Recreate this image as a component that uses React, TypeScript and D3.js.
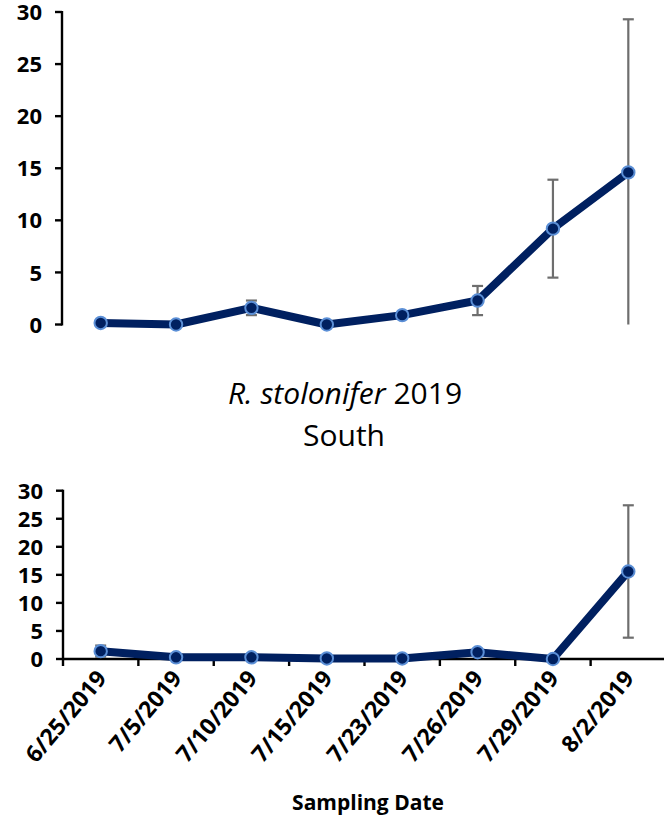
import React from "react";
import * as d3 from "d3";

const dates = ["6/25/2019", "7/5/2019", "7/10/2019", "7/15/2019", "7/23/2019", "7/26/2019", "7/29/2019", "8/2/2019"];
const northMeans = [0.15, 0.0, 1.6, 0.0, 0.9, 2.3, 9.2, 14.6];
const northErr = [0, 0, 0.7, 0, 0, 1.4, 4.7, 14.7];
const southMeans = [1.4, 0.3, 0.3, 0.1, 0.1, 1.2, 0.0, 15.6];
const southErr = [1.0, 0, 0, 0, 0, 0, 0, 11.8];
const yTicks = [0, 5, 10, 15, 20, 25, 30];

const W = 664;
const H = 828;
const LINE = "#002060";
const MARK_STROKE = "#5b8fd6";
const ERR = "#6e6e6e";
const FONT = "'Open Sans', 'DejaVu Sans', sans-serif";

const x = d3.scaleBand<string>().domain(dates).range([63, 666]).padding(0);
const cx = (d: string) => (x(d) as number) + x.bandwidth() / 2;

function Panel({ means, errs, y0, y1, axisX, showXAxis }: { means: number[]; errs: number[]; y0: number; y1: number; axisX: number; showXAxis: boolean }) {
  const y = d3.scaleLinear().domain([0, 30]).range([y0, y1]);
  const line = d3
    .line<number>()
    .x((_, i) => cx(dates[i]))
    .y((v) => y(v));
  return (
    <g>
      <line x1={axisX} x2={axisX} y1={y(0) + 1} y2={y(30) - 1} stroke="#000" strokeWidth={2.4} />
      {yTicks.map((t) => (
        <g key={t}>
          <line x1={axisX - 7} x2={axisX} y1={y(t)} y2={y(t)} stroke="#000" strokeWidth={2.4} />
          <text x={axisX - 20} y={y(t)} dy="0.37em" textAnchor="end" fontFamily={FONT} fontWeight={700} fontSize={22} fill="#000">
            {t}
          </text>
        </g>
      ))}
      {showXAxis && (
        <g>
          <line x1={axisX} x2={W} y1={y(0)} y2={y(0)} stroke="#000" strokeWidth={2.6} />
          {dates.map((d) => (
            <line key={d} x1={x(d) as number} x2={x(d) as number} y1={y(0)} y2={y(0) + 7} stroke="#000" strokeWidth={2.4} />
          ))}
        </g>
      )}
      {means.map((m, i) => {
        const e = errs[i];
        if (!e) return null;
        const c = cx(dates[i]);
        const hi = m + e;
        const lo = Math.max(0, m - e);
        const loClipped = m - e < 0;
        return (
          <g key={i} stroke={ERR} strokeWidth={2.2}>
            <line x1={c} x2={c} y1={y(hi)} y2={y(lo)} />
            <line x1={c - 5.5} x2={c + 5.5} y1={y(hi)} y2={y(hi)} />
            {!loClipped && <line x1={c - 5.5} x2={c + 5.5} y1={y(lo)} y2={y(lo)} />}
          </g>
        );
      })}
      <path d={line(means) as string} fill="none" stroke={LINE} strokeWidth={8} strokeLinejoin="round" />
      {means.map((m, i) => (
        <circle key={i} cx={cx(dates[i])} cy={y(m)} r={6.2} fill={LINE} stroke={MARK_STROKE} strokeWidth={2} />
      ))}
    </g>
  );
}

export default function App() {
  const yBottom = d3.scaleLinear().domain([0, 30]).range([659, 490.7]);
  return (
    <svg width={W} height={H} style={{ position: "absolute", left: 0, top: 0, background: "#fff" }}>
      <rect width={W} height={H} fill="#fff" />
      <Panel means={northMeans} errs={northErr} y0={324.5} y1={12} axisX={62} showXAxis={false} />
      <text x={345} y={404} textAnchor="middle" fontFamily={FONT} fontSize={30} fill="#000">
        <tspan fontStyle="italic">R. stolonifer</tspan>
        <tspan> 2019</tspan>
      </text>
      <text x={344} y={446} textAnchor="middle" fontFamily={FONT} fontSize={30} fill="#000">
        South
      </text>
      <Panel means={southMeans} errs={southErr} y0={659} y1={490.7} axisX={63} showXAxis={true} />
      {dates.map((d) => (
        <text
          key={d}
          transform={`translate(${cx(d) + 7},${yBottom(0) + 20}) rotate(-50)`}
          textAnchor="end"
          fontFamily={FONT}
          fontWeight={700}
          fontSize={23}
          fill="#000"
        >
          {d}
        </text>
      ))}
      <text x={368} y={810} textAnchor="middle" fontFamily={FONT} fontWeight={700} fontSize={21} fill="#000">
        Sampling Date
      </text>
    </svg>
  );
}
